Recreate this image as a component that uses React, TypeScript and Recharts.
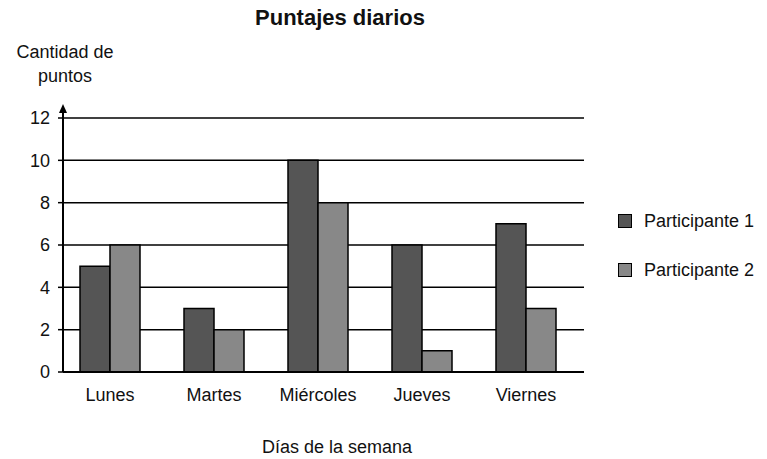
import { BarChart, Bar, XAxis, YAxis, CartesianGrid, usePlotArea } from 'recharts'

document.body.style.margin = '0'

const days = ['Lunes', 'Martes', 'Miércoles', 'Jueves', 'Viernes']
const participante1 = [5, 3, 10, 6, 7]
const participante2 = [6, 2, 8, 1, 3]
const yTicks = [0, 2, 4, 6, 8, 10, 12]

const data = days.map((day, i) => ({
    day,
    p1: participante1[i],
    p2: participante2[i],
}))

const FONT = '"Liberation Sans", Arial, sans-serif'

function AxisArrow() {
    const plot = usePlotArea()
    if (!plot) return null
    const x = plot.x
    const top = plot.y - 14
    return (
        <g>
            <line x1={x} y1={plot.y} x2={x} y2={top + 4} stroke="#000" strokeWidth={2} />
            <polygon points={`${x - 4},${top + 9} ${x + 4},${top + 9} ${x},${top}`} fill="#000" />
        </g>
    )
}

export default function App() {
    return (
        <div style={{ position: 'relative', width: 767, height: 459, fontFamily: FONT, color: '#111', background: '#fff' }}>
            <div style={{ position: 'absolute', left: 0, width: 680, top: 5, textAlign: 'center', fontSize: 22, lineHeight: '25px', fontWeight: 'bold' }}>
                Puntajes diarios
            </div>
            <div style={{ position: 'absolute', left: 0, width: 130, top: 40, textAlign: 'center', fontSize: 18, lineHeight: '24px' }}>
                Cantidad de<br />puntos
            </div>
            <BarChart
                width={767}
                height={459}
                data={data}
                margin={{ top: 118, right: 183, bottom: 12, left: 0 }}
                barCategoryGap={22}
                barGap={0}
            >
                <CartesianGrid vertical={false} stroke="#000" strokeWidth={1.5} />
                <XAxis
                    dataKey="day"
                    height={75}
                    padding={{ left: -5, right: 6 }}
                    axisLine={{ stroke: '#000', strokeWidth: 2 }}
                    tickLine={false}
                    tickMargin={10}
                    tick={{ fill: '#111', fontSize: 18, fontFamily: FONT }}
                />
                <YAxis
                    width={63}
                    domain={[0, 12]}
                    ticks={yTicks}
                    interval={0}
                    axisLine={{ stroke: '#000', strokeWidth: 2 }}
                    tickLine={{ stroke: '#000', strokeWidth: 1.5 }}
                    tickSize={5}
                    tickMargin={8}
                    tick={{ fill: '#111', fontSize: 18, fontFamily: FONT }}
                />
                <Bar dataKey="p1" fill="#555555" stroke="#000" strokeWidth={1.5} isAnimationActive={false} />
                <Bar dataKey="p2" fill="#888888" stroke="#000" strokeWidth={1.5} isAnimationActive={false} />
                <AxisArrow />
            </BarChart>
            <div style={{ position: 'absolute', left: 262, top: 437, fontSize: 18, lineHeight: '20px' }}>
                Días de la semana
            </div>
            {[
                { name: 'Participante 1', color: '#555555', top: 211 },
                { name: 'Participante 2', color: '#888888', top: 260 },
            ].map((item) => (
                <div key={item.name} style={{ position: 'absolute', left: 618, top: item.top, display: 'flex', alignItems: 'center', fontSize: 18, lineHeight: '20px' }}>
                    <span style={{ display: 'inline-block', width: 12, height: 12, background: item.color, border: '1.5px solid #000', marginRight: 12 }} />
                    {item.name}
                </div>
            ))}
        </div>
    )
}
